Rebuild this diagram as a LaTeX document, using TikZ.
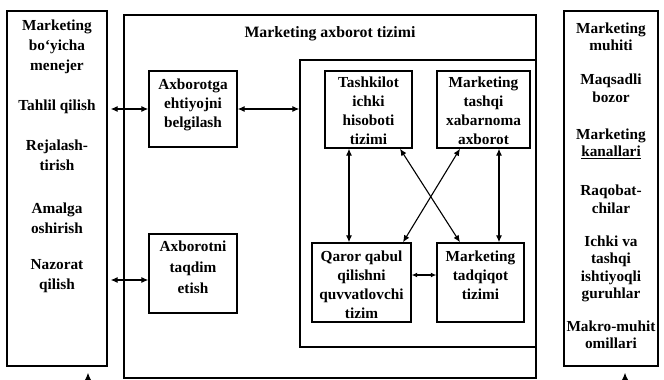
\documentclass[tikz,border=0pt]{standalone}
\usepackage{fontspec}
\setmainfont{Liberation Serif}
\usetikzlibrary{arrows.meta}
\begin{document}
\begin{tikzpicture}[x=1pt,y=-1pt,
  frame/.style={draw, line width=1.4pt, inner sep=0pt},
  txt/.style={align=center, inner sep=0pt, font=\bfseries\fontsize{15.3}{19}\selectfont},
  ltxt/.style={txt, font=\bfseries\fontsize{15.3}{20}\selectfont},
  rtxt/.style={txt, font=\bfseries\fontsize{15.3}{17.5}\selectfont},
  arr/.style={{Latex[length=7pt,width=6pt]}-{Latex[length=7pt,width=6pt]}, line width=1.1pt},
  uparr/.style={-{Latex[length=8pt,width=7pt]}, line width=1.1pt}]
\useasboundingbox (0,0) rectangle (664,380);
\clip (0,0) rectangle (664,380);

% outer frames
\node[frame, minimum width=100pt, minimum height=355pt] (left)  at (57,188.5) {};
\node[frame, minimum width=94pt,  minimum height=355pt] (right) at (611,188.5) {};
\node[frame, minimum width=412pt, minimum height=363pt] (big)   at (330,196.5) {};
\node[frame, minimum width=236pt, minimum height=287pt] (inner) at (418,203.5) {};
\node[txt, font=\bfseries\fontsize{15.8}{19}\selectfont] (title) at (330,34) {Marketing axborot tizimi};

% manager functions
\node[ltxt] (l1) at (57,47)    {Marketing\\bo‘yicha\\menejer};
\node[ltxt] (l2) at (57,107)   {Tahlil qilish};
\node[ltxt] (l3) at (57,155.5) {Rejalash-\\tirish};
\node[ltxt] (l4) at (57,218)   {Amalga\\oshirish};
\node[ltxt] (l5) at (57,276)   {Nazorat\\qilish};

% marketing environment
\node[rtxt] (r1) at (611,37)   {Marketing\\muhiti};
\node[rtxt] (r2) at (611,88.5) {Maqsadli\\bozor};
\node[rtxt] (r3) at (611,144)  {Marketing\\\underline{kanallari}};
\node[rtxt] (r4) at (611,199.5){Raqobat-\\chilar};
\node[rtxt] (r5) at (611,269)  {Ichki va\\tashqi\\ishtiyoqli\\guruhlar};
\node[rtxt] (r6) at (611,335)  {Makro-muhit\\omillari};

% information system blocks
\node[frame, minimum width=88pt, minimum height=76pt] (axb)    at (193,109)     {};
\node[frame, minimum width=88pt, minimum height=79pt] (axt)    at (193,273.5)   {};
\node[frame, minimum width=87pt, minimum height=77pt] (tash)   at (368.5,109.5) {};
\node[frame, minimum width=93pt, minimum height=77pt] (tashqi) at (483.5,109.5) {};
\node[frame, minimum width=99pt, minimum height=79pt] (qaror)  at (361.5,282.5) {};
\node[frame, minimum width=87pt, minimum height=79pt] (tadq)   at (480.5,282.5) {};

\node[txt] (axbT)    at (193,104.5)   {Axborotga\\ehtiyojni\\belgilash};
\node[txt, font=\bfseries\fontsize{15.3}{21}\selectfont] (axtT) at (193,267) {Axborotni\\taqdim\\etish};
\node[txt] (tashT)   at (368.5,110.5) {Tashkilot\\ichki\\hisoboti\\tizimi};
\node[txt] (tashqiT) at (483.5,110.5) {Marketing\\tashqi\\xabarnoma\\axborot};
\node[txt] (qarorT)  at (361.5,285)   {Qaror qabul\\qilishni\\quvvatlovchi\\tizim};
\node[txt] (tadqT)   at (480.5,275.5) {Marketing\\tadqiqot\\tizimi};

% connectors
\draw[arr, shorten <=3pt] (axb.west -| left.east) -- (axb.west);
\draw[arr] (axb.east) -- (axb.east -| inner.west);
\coordinate (a3) at ([yshift=-6.5pt]axt.west);
\draw[arr, shorten <=3pt] (a3 -| left.east) -- (a3);

\coordinate (v1) at ([xshift=-19.5pt]tash.south);
\draw[arr] (v1) -- (v1 |- qaror.north);
\coordinate (v2) at ([xshift=15.5pt]tashqi.south);
\draw[arr] (v2) -- (v2 |- tadq.north);
\draw[arr] ([xshift=31.5pt]tash.south) -- ([xshift=-20.5pt]tadq.north);
\draw[arr] ([xshift=-23.5pt]tashqi.south) -- ([xshift=41.5pt]qaror.north);
\coordinate (h1) at ([yshift=7.5pt]qaror.east);
\draw[{Latex[length=5.5pt,width=5pt]}-{Latex[length=5.5pt,width=5pt]}, line width=1.1pt] (h1) -- (h1 -| tadq.west);

% incoming arrows from below
\coordinate (lb) at (88,395);
\draw[uparr, shorten >=6pt] (lb) -- (lb |- left.south);
\coordinate (rb) at (625,395);
\draw[uparr, shorten >=6pt] (rb) -- (rb |- right.south);
\end{tikzpicture}
\end{document}
